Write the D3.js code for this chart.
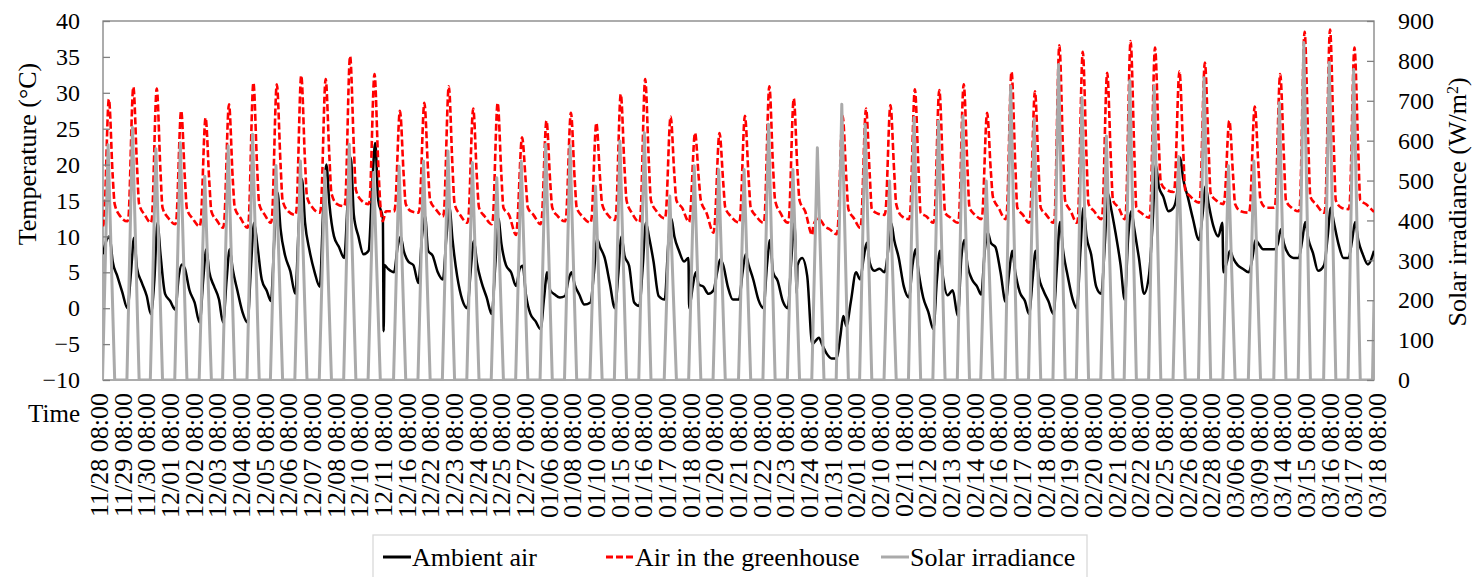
<!DOCTYPE html>
<html>
<head>
<meta charset="utf-8">
<script src="https://cdn.jsdelivr.net/npm/d3@7"></script>
<style>
  body { margin: 0; background: #fff; }
  svg { display: block; }
  text { font-family: "Liberation Serif", "Times New Roman", serif; fill: #000; }
</style>
</head>
<body>
<svg id="chart" width="1474" height="577"></svg>
<script>
// x axis labels (every label is 08:00)
var dateLabels = ["11/28","11/29","11/30","12/01","12/02","12/03","12/04","12/05","12/06","12/07",
  "12/08","12/10","12/11","12/16","12/22","12/23","12/24","12/25","12/27","01/06",
  "01/08","01/10","01/15","01/16","01/17","01/18","01/20","01/21","01/22","01/23",
  "01/24","01/31","02/01","02/10","02/11","02/12","02/13","02/14","02/16","02/17",
  "02/18","02/19","02/20","02/21","02/22","02/25","02/26","02/28","03/06","03/09",
  "03/14","03/15","03/16","03/17","03/18"];

// hours recorded in each plotted day (52 days)
var dayHours = [24,23,24,24,23,24,23,24,
  24,24,24,25,24,24,24,24,24,24,
  24,25,24,24,25,24,24,25,
  24,24,24,24,23,24,24,24,24,
  23,24,23,24,23,24,23,24,24,
  25,24,25,25,24,25,24,25];

// air in the greenhouse, degC, read at these hours after 08:00 each day
var greenhouseHours = [0, 1, 5.8, 9.5, 11.5, 17];
var greenhouse = [
  [11.4,12,29.1,18.5,14.5,12.8],[12.1,12.6,30.8,19.5,14.5,13],[11.9,12.4,30.6,19,14,12.6],
  [11.7,12.2,27.5,18,13.8,12.5],[11.4,12,26.5,17.5,13.5,12.2],[11.2,11.8,28.4,18,14,12.6],
  [11.2,11.8,31.4,19.5,14.5,13],[11.9,12.5,31.2,20,15,13.5],[13,13.5,32.4,20.5,15.5,14],
  [13.3,13.8,31.9,21,16,14.5],[14.2,14.7,35.1,22.5,16.5,15],[14.5,15,32.6,20,14.5,13.5],
  [13.5,14,27.5,18.5,14.5,13.5],[13.3,13.8,28.6,19,15,13.8],[12.8,13.3,30.9,19.5,14.5,13],
  [11.9,12.4,27.8,18,14,12.8],[11.7,12.2,28.6,18.5,14,13],[10.2,11.5,23.8,17.5,14,13],
  [11.7,12.2,26.1,17.5,14,12.8],[12.1,12.6,27.2,18,14,12.8],[11.9,12.4,25.8,18,14.5,13],
  [12.3,12.8,29.8,19.5,15,13.2],[12,12.5,31.9,20,15,13.5],[12.5,13,26.7,18.5,15,14],
  [12,13,24.4,18,15,13.3],[10.5,11.5,24.4,17.5,14,12.8],[11.9,12.4,26.8,18,14,12.8],
  [11.9,12.4,30.9,19.5,15,13.2],[11.9,12.4,29.2,19,15,13.5],[10.2,11.5,12.5,12,11.5,11],
  [10.3,11,26.8,18,13.8,12.5],[11.2,11.8,27.8,18.5,13.8,13.2],[13,13.5,28.3,19,14.5,12.8],
  [12.4,12.9,30.5,19,13.3,12.8],[11.9,12.4,30.4,19,13.3,12.6],[11.9,12.4,31.2,19.5,14,13],
  [12.4,12.9,27.2,19,15.5,14],[12.4,12.9,32.9,20,14,13],[11.9,12.4,30.2,19,14,13],
  [11.9,12.4,36.6,21.5,15,13.5],[11.9,12.4,35.7,21,14.5,13.5],[12.4,12.9,32.8,20.5,15,14],
  [12.4,12.9,37.2,21.5,14,13.2],[12.6,13.1,36.3,23,17.5,16.5],[16.2,16.7,33,22,16.5,15.5],
  [14.7,15.2,34.2,22,16,15],[14.5,15,26.1,18.5,14.5,13.5],[13.3,13.8,28.1,19.5,15,14],
  [14,14.5,32.6,21,15,14],[13.5,14,38.5,22.5,15.5,14.5],[13.3,13.8,38.8,22.5,15,14],
  [13.8,14.3,36.3,22,15,14.5]];
var greenhouseExtra = [[11, 14, 12.1]];   // [day, hour, value]
var greenhouseLast = 13.4;

// ambient air, degC
var ambientHours = [0, 3.5, 6.5, 9.5, 14, 19];
var ambient = [
  [7.5,9.5,10,6.5,4.5,2.2],[0,5,9.8,5.5,3.6,1.7],[-0.8,4,11.9,7.5,2,1],
  [-0.2,4.5,6.1,5.5,2.5,0.8],[-2,4,8.2,5,3.1,1.2],[-2,4,8.2,5.4,2.5,-0.5],
  [-2,6,11.9,9,4,2.4],[1,10,16.1,11,7.3,5.2],[2,12,18,12,8,5],
  [3,14,20,14.5,10,8.5],[7,15,21,13,10,7.5],[8,17,23,15,12.5,5.5],
  [5,8.5,10,8,6.5,6],[3.5,10,12.8,8,7.3,5],[4,10,14,9.5,4.5,1.2],
  [0,5.5,9.4,6.3,3.6,1.5],[-0.8,6,12.5,9,6,5],[3.1,5.5,5.9,2,-0.8,-1.8],
  [-2.9,1.5,5,2.5,1.9,1.5],[1.7,4,5,3.3,1.9,0.5],[0.8,5,9.6,8.5,7,3.5],
  [0,5,10,7.3,5.9,0.8],[0.3,6,11.9,10,6.5,1.7],[1.2,9,12.5,10,8,6.5],
  [0,3,5,3.3,3,2],[2.5,5,6.8,6,3,1.2],[1.2,5,7.5,6,4,1.2],
  [0,6,9.5,5,3.8,1],[0,7,11.9,6,7,4.5],[-5,-4.5,-4.1,-5,-6.3,-7],
  [-7,-4,-1.1,-2.5,1,5],[4,7,9.1,6.3,5.2,5.5],[5,8,11.9,9.5,7,3],
  [1.5,6,8.2,5,1.5,-0.5],[-2.9,4,8,4.3,1.8,2.5],[-1.1,7,9.5,6,4,3],
  [1.9,8,10.5,9.1,8.5,5],[0.9,5,8,5,2.2,1],[-0.8,4,8,4.5,2.5,1],
  [-0.8,6,12,8,4.5,1.2],[0,8,14,10,7.5,3],[2,9,16,14,10.5,6],
  [1.2,10,13.5,11,7,2],[4.7,12,20,17,15.5,13.5],[14,16,21,18,15.5,12.5],
  [9.5,13,17,14.5,11.5,10],[5,6.5,8,7,6,5.5],[5,7,9.5,9,8.2,8.2],
  [8.2,9,11,9,7.5,7],[7,9.5,12,9.6,7.7,5.2],[6,10,14,12,9,7],
  [7,9.5,12,9.5,7.5,6.1]];
var ambientExtra = [[11, 14.8, -3.2], [11, 15.6, 6], [23, 23.3, 7], [28, 8.8, 2], [45, 23, 11.9]];
var ambientLast = 8;

// solar irradiance, W/m2
var solarHours = [-0.5, 5, 11.5];
var solar = [
  [0,590,0],[0,633,0],[0,580,0],[0,595,0],[0,511,0],[0,587,0],[0,616,0],[0,538,0],[0,549,0],
  [0,524,0],[0,591,0],[0,520,0],[0,536,0],[0,549,0],[0,574,0],[0,545,0],[0,507,0],[0,549,0],
  [0,591,0],[0,587,0],[0,486,0],[0,599,0],[0,620,0],[0,461,0],[0,537,0],[0,528,0],[0,528,0],
  [0,641,0],[0,528,0],[0,582,0],[0,691,0],[0,641,0],[0,499,0],[0,658,0],[0,649,0],[0,662,0],
  [0,499,0],[0,737,0],[0,653,0],[0,791,0],[0,708,0],[0,612,0],[0,750,0],[0,737,0],
  [0,560,0],[0,758,0],[0,537,0],[0,549,0],[0,695,0],[0,846,0],[0,796,0],[0,779,0]];
var solarExtra = [[51, 23.5, 0]];
var solarLast = 200;

var svg = d3.select("#chart");
var plotL = 103, plotR = 1374, plotT = 21, plotB = 380;

var dayStart = [0];
dayHours.forEach(function(h, i) { dayStart.push(dayStart[i] + h); });
var total = dayStart[dayHours.length];

var x = d3.scaleLinear().domain([0, total]).range([plotL, plotR]);
var yT = d3.scaleLinear().domain([-10, 40]).range([plotB, plotT]);
var yS = d3.scaleLinear().domain([0, 900]).range([plotB, plotT]);

function build(rows, hours, extra, last) {
  var pts = [];
  rows.forEach(function(r, i) {
    r.forEach(function(v, j) { pts.push({t: dayStart[i] + hours[j], v: v}); });
  });
  extra.forEach(function(e) { pts.push({t: dayStart[e[0]] + e[1], v: e[2]}); });
  pts.push({t: total, v: last});
  pts.sort(function(a, b) { return a.t - b.t; });
  return pts;
}

var ambientPts = build(ambient, ambientHours, ambientExtra, ambientLast);
var greenPts = build(greenhouse, greenhouseHours, greenhouseExtra, greenhouseLast);
var solarPts = build(solar, solarHours, solarExtra, solarLast);

svg.append("clipPath").attr("id", "plotClip")
  .append("rect").attr("x", plotL).attr("y", plotT - 2)
  .attr("width", plotR - plotL).attr("height", plotB - plotT + 3);

// frame
svg.append("rect")
  .attr("x", plotL).attr("y", plotT)
  .attr("width", plotR - plotL).attr("height", plotB - plotT)
  .attr("fill", "none").attr("stroke", "#808080").attr("stroke-width", 1.3);

var lineT = d3.line().x(function(d) { return x(d.t); }).y(function(d) { return yT(d.v); })
  .curve(d3.curveMonotoneX);
var lineS = d3.line().x(function(d) { return x(d.t); }).y(function(d) { return yS(d.v); });

var plot = svg.append("g").attr("clip-path", "url(#plotClip)");

plot.append("path").datum(ambientPts)
  .attr("d", lineT).attr("fill", "none")
  .attr("stroke", "#000").attr("stroke-width", 2.5).attr("stroke-linejoin", "round");

plot.append("path").datum(greenPts)
  .attr("d", lineT).attr("fill", "none")
  .attr("stroke", "#ff0000").attr("stroke-width", 2.6)
  .attr("stroke-dasharray", "7,3");

plot.append("path").datum(solarPts)
  .attr("d", lineS).attr("fill", "none")
  .attr("stroke", "#aaaaaa").attr("stroke-width", 3).attr("stroke-linejoin", "round");

// left axis
var axL = svg.append("g").attr("transform", "translate(" + plotL + ",0)")
  .call(d3.axisLeft(yT).tickValues(d3.range(-10, 41, 5)).tickSize(-7).tickPadding(23));
axL.select(".domain").remove();
axL.selectAll("line").attr("stroke", "#808080").attr("stroke-width", 1.3);
axL.selectAll("text").style("font-size", "24px").style("font-family", "Liberation Serif");

// right axis
var axR = svg.append("g").attr("transform", "translate(" + plotR + ",0)")
  .call(d3.axisRight(yS).tickValues(d3.range(0, 901, 100)).tickSize(-7).tickPadding(24));
axR.select(".domain").remove();
axR.selectAll("line").attr("stroke", "#808080").attr("stroke-width", 1.3);
axR.selectAll("text").style("font-size", "24px").style("font-family", "Liberation Serif");

// x labels
var xl = d3.scalePoint().domain(dateLabels).range([99, 1377]);
svg.append("g").selectAll("text").data(dateLabels).join("text")
  .attr("transform", function(d) { return "translate(" + xl(d) + ",393) rotate(-90)"; })
  .attr("dy", "0.35em")
  .attr("text-anchor", "end")
  .style("font-size", "26px")
  .text(function(d) { return d + " 08:00"; });

svg.append("text").attr("x", 80).attr("y", 422).attr("text-anchor", "end")
  .style("font-size", "25px").text("Time");

// axis titles
svg.append("text")
  .attr("transform", "translate(27,154) rotate(-90)")
  .attr("dy", "0.35em").attr("text-anchor", "middle")
  .style("font-size", "26px").text("Temperature (°C)");

var rt = svg.append("text")
  .attr("transform", "translate(1457,202) rotate(-90)")
  .attr("dy", "0.35em").attr("text-anchor", "middle")
  .style("font-size", "26px");
rt.append("tspan").text("Solar irradiance (W/m");
rt.append("tspan").attr("baseline-shift", "super").style("font-size", "16px").text("2");
rt.append("tspan").text(")");

// legend
var lg = svg.append("g");
lg.append("rect").attr("x", 373).attr("y", 535).attr("width", 714).attr("height", 60)
  .attr("fill", "#fff").attr("stroke", "#d9d9d9").attr("stroke-width", 1.3);
var items = [
  {name: "Ambient air", color: "#000", dash: null, x: 383},
  {name: "Air in the greenhouse", color: "#ff0000", dash: "7,3", x: 606},
  {name: "Solar irradiance", color: "#aaaaaa", dash: null, x: 881}
];
items.forEach(function(it) {
  lg.append("line").attr("x1", it.x).attr("x2", it.x + 28).attr("y1", 557).attr("y2", 557)
    .attr("stroke", it.color).attr("stroke-width", 3).attr("stroke-dasharray", it.dash);
  lg.append("text").attr("x", it.x + 29).attr("y", 566)
    .style("font-size", "26px").text(it.name);
});
</script>
</body>
</html>
